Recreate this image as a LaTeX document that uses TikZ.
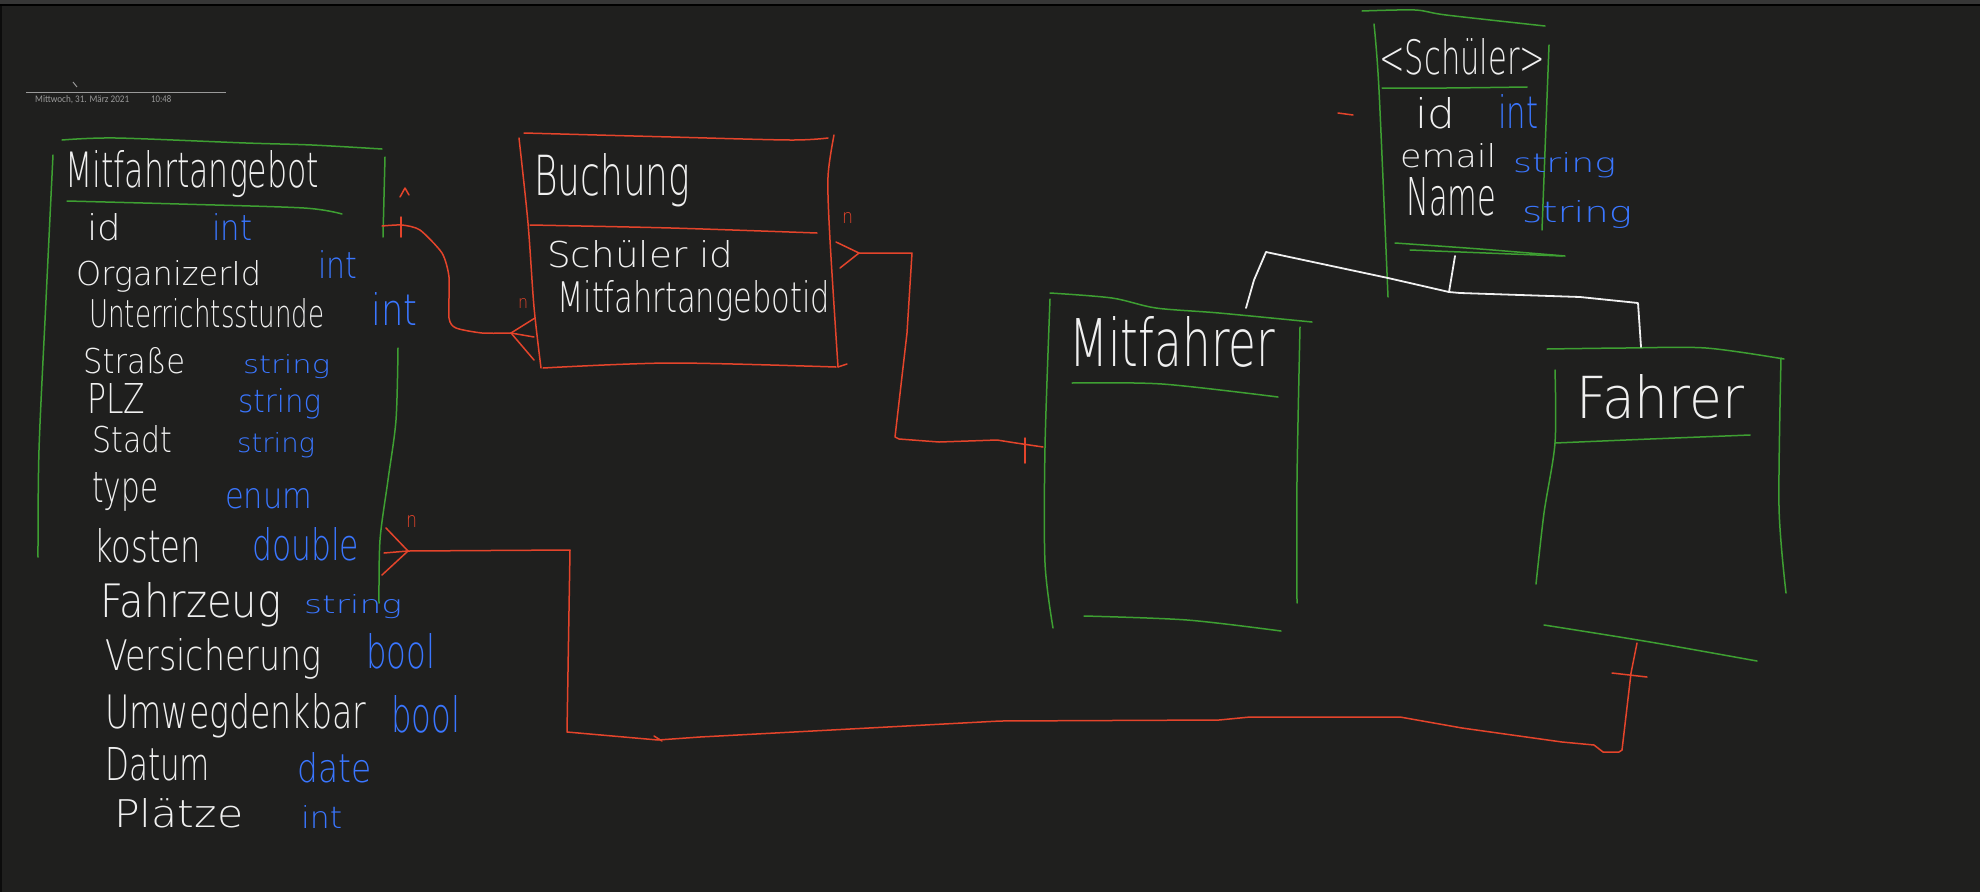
\documentclass[tikz,border=0pt]{standalone}
\usepackage{fontspec}
\usepackage{graphicx}
\setmainfont{DejaVuSans-ExtraLight.ttf}
\newfontfamily\hdrfont{Carlito}
\definecolor{bg}{HTML}{1F1F1E}
\definecolor{topgray}{HTML}{363636}
\definecolor{gr}{HTML}{3E9F32}
\definecolor{rd}{HTML}{E4442B}
\definecolor{bl}{HTML}{3A76FF}
\definecolor{wh}{HTML}{F0F0F0}
\definecolor{hdr}{HTML}{9A9A9A}
\newcommand\fb[3]{\resizebox{#1pt}{#2pt}{#3}}
\tikzset{
  gline/.style={gr, line width=1.5pt, line cap=round, line join=round},
  rline/.style={rd, line width=1.5pt, line cap=round, line join=round},
  wline/.style={wh, line width=1.8pt, line cap=round, line join=round},
  wtxt/.style={text=wh, inner sep=0pt, anchor=base west},
  btxt/.style={text=bl, inner sep=0pt, anchor=base west},
  rtxt/.style={text=rd, inner sep=0pt, anchor=base west},
  htxt/.style={text=hdr, inner sep=0pt, anchor=base west, font=\hdrfont},
}
\begin{document}
\begin{tikzpicture}[x=1pt,y=-1pt]
\useasboundingbox (0,0) rectangle (1980,892);
\fill[bg] (0,0) rectangle (1980,892);
\fill[topgray] (0,0) rectangle (1980,4);
\fill[black] (0,4) rectangle (1980,6);
\fill[black!60!bg] (0,6) rectangle (2,892);

% header
\draw[hdr, line width=1pt] (26,92) -- (226,92);
\draw[hdr, line width=1pt] (73,82) -- (77,87);
\node[htxt] (hdate) at (35,102) {\fb{94}{7}{Mittwoch, 31. März 2021}};
\node[htxt] (htime) at (151,102) {\fb{20}{7}{10:48}};

% ---------- Mitfahrtangebot ----------
\draw[gline] plot[smooth,tension=.5] coordinates {(62,140)(116,138)(246,143)(312,145)(382,149)};
\draw[gline] plot[smooth,tension=.5] coordinates {(53,155)(46,300)(39,450)(38,557)};
\draw[gline] (385,157) -- (383,237);
\draw[gline] plot[smooth,tension=.5] coordinates {(398,348)(396,420)(388,480)(380,540)(379,603)};
\draw[gline] plot[smooth,tension=.5] coordinates {(67,201)(179,204)(304,208)(342,214)};
\node[wtxt] (mtitle) at (65,187) {\fb{254}{37}{Mitfahrtangebot}};
\node[wtxt] (m1) at (87,240) {\fb{34}{27}{id}};
\node[btxt] (t1) at (212,240) {\fb{40}{27}{int}};
\node[wtxt] (m2) at (76,285) {\fb{185}{25}{OrganizerId}};
\node[btxt] (t2) at (318,278) {\fb{39}{28}{int}};
\node[wtxt] (m3) at (89,327) {\fb{235}{29}{Unterrichtsstunde}};
\node[btxt] (t3) at (371,325) {\fb{46}{33}{int}};
\node[wtxt] (m4) at (83,373) {\fb{102}{26}{Straße}};
\node[btxt] (t4) at (243,373) {\fb{87}{19}{string}};
\node[wtxt] (m5) at (87,413) {\fb{58}{30}{PLZ}};
\node[btxt] (t5) at (238,412) {\fb{83}{24}{string}};
\node[wtxt] (m6) at (92,452) {\fb{80}{27}{Stadt}};
\node[btxt] (t6) at (237,452) {\fb{78}{20}{string}};
\node[wtxt] (m7) at (92,502) {\fb{66}{30}{type}};
\node[btxt] (t7) at (225,508) {\fb{87}{20}{enum}};
\node[wtxt] (m8) at (94,562) {\fb{107}{34}{kosten}};
\node[btxt] (t8) at (252,560) {\fb{107}{33}{double}};
\node[wtxt] (m9) at (100,617) {\fb{181}{35}{Fahrzeug}};
\node[btxt] (t9) at (304,613) {\fb{98}{19}{string}};
\node[wtxt] (m10) at (105,670) {\fb{216}{32}{Versicherung}};
\node[btxt] (t10) at (366,668) {\fb{69}{35}{bool}};
\node[wtxt] (m11) at (105,728) {\fb{261}{35}{Umwegdenkbar}};
\node[btxt] (t11) at (391,732) {\fb{69}{37}{bool}};
\node[wtxt] (m12) at (105,780) {\fb{105}{33}{Datum}};
\node[btxt] (t12) at (297,782) {\fb{74}{30}{date}};
\node[wtxt] (m13) at (114,827) {\fb{129}{29}{Plätze}};
\node[btxt] (t13) at (301,828) {\fb{41}{23}{int}};

% ---------- Buchung ----------
\draw[rline] plot[smooth,tension=.5] coordinates {(524,133)(671,137)(790,140)(828,138)};
\draw[rline] plot[smooth,tension=.5] coordinates {(519,138)(528,223)(534,307)(541,368)};
\draw[rline] plot[smooth,tension=.5] coordinates {(834,135)(828,177)(830,240)(838,367)};
\draw[rline] (838,367) -- (847,364);
\draw[rline] plot[smooth,tension=.5] coordinates {(543,368)(671,363)(836,367)};
\draw[rline] plot[smooth,tension=.5] coordinates {(530,225)(671,228)(817,233)};
\node[wtxt] (btitle) at (534,195) {\fb{156}{42}{Buchung}};
\node[wtxt] (b1) at (547,267) {\fb{186}{27}{Schüler id}};
\node[wtxt] (b2) at (557,312) {\fb{273}{32}{Mitfahrtangebotid}};

% ---------- Schüler ----------
\draw[gline] plot[smooth,tension=.5] coordinates {(1362,11)(1415,10)(1446,15)(1545,26)};
\draw[gline] plot[smooth,tension=.5] coordinates {(1374,24)(1379,90)(1388,297)};
\draw[gline] (1549,45) -- (1542,230);
\draw[gline] plot[smooth,tension=.5] coordinates {(1382,88)(1446,88)(1527,87)};
\draw[gline] plot[smooth,tension=.5] coordinates {(1395,243)(1480,249)(1565,256)};
\draw[gline] (1410,250) -- (1562,256);
\draw[rline] (1338,113) -- (1353,115);
\node[wtxt] (stitle) at (1379,74) {\fb{166}{36}{<Schüler>}};
\node[wtxt] (s1) at (1415,128) {\fb{40}{31}{id}};
\node[btxt] (st1) at (1498,128) {\fb{40}{34}{int}};
\node[wtxt] (s2) at (1400,167) {\fb{96}{24}{email}};
\node[btxt] (st2) at (1513,172) {\fb{103}{20}{string}};
\node[wtxt] (s3) at (1406,215) {\fb{90}{38}{Name}};
\node[btxt] (st3) at (1522,222) {\fb{110}{22}{string}};

% ---------- Mitfahrer ----------
\draw[gline] plot[smooth,tension=.5] coordinates {(1050,293)(1112,298)(1156,308)(1219,313)(1312,322)};
\draw[gline] plot[smooth,tension=.5] coordinates {(1050,299)(1045,447)(1045,563)(1053,628)};
\draw[gline] plot[smooth,tension=.5] coordinates {(1300,327)(1297,480)(1297,603)};
\draw[gline] plot[smooth,tension=.5] coordinates {(1072,383)(1162,384)(1278,397)};
\draw[gline] plot[smooth,tension=.5] coordinates {(1084,616)(1187,620)(1281,631)};
\node[wtxt] (mftitle) at (1069,366) {\fb{206}{50}{Mitfahrer}};

% ---------- Fahrer ----------
\draw[gline] plot[smooth,tension=.5] coordinates {(1547,349)(1625,348)(1706,348)(1784,359)};
\draw[gline] plot[smooth,tension=.5] coordinates {(1555,370)(1555,443)(1544,513)(1536,584)};
\draw[gline] plot[smooth,tension=.5] coordinates {(1781,358)(1779,507)(1786,593)};
\draw[gline] plot[smooth,tension=.5] coordinates {(1555,443)(1650,439)(1750,435)};
\draw[gline] plot[smooth,tension=.5] coordinates {(1544,625)(1650,642)(1757,661)};
\node[wtxt] (ftitle) at (1576,418) {\fb{168}{44}{Fahrer}};

% ---------- inheritance ----------
\coordinate (i1) at (1246,308);
\coordinate (i2) at (1641,347);
\coordinate (i3) at (1455,256);
\coordinate (ij) at (1449,292);
\draw[wline] (i1) -- (1254,280) -- (1266,252) -- (1388,278) -- (ij) -- (1460,293) -- (1580,297) -- (1638,303) -- (i2);
\draw[wline] (i3) -- (ij);

% ---------- connector Mitfahrtangebot -- Buchung ----------
\coordinate (c1a) at (382,226);
\coordinate (c1f) at (511,333);
\coordinate (c1b) at (534,337);
\draw[rline] plot[smooth,tension=.4] coordinates {(c1a)(402,225)(420,230)(442,253)(449,277)(449,318)(456,328)(482,333)(c1f)};
\draw[rline] (c1f) -- (c1b);
\draw[rline] (c1f) -- (535,318);
\draw[rline] (c1f) -- (534,360);
\draw[rline] (401,217) -- (401,237);
\draw[rline] (400,197) -- (405,188) -- (409,195);
\node[rtxt] (n1) at (518,308) {\fb{10}{10}{n}};

% ---------- connector Buchung -- Mitfahrer ----------
\coordinate (c2a) at (859,253);
\coordinate (c2b) at (1043,447);
\draw[rline] (c2a) -- (912,253) -- (907,333) -- (895,437) -- (899,439) -- (939,442) -- (997,440) -- (1016,443) -- (c2b);
\draw[rline] (c2a) -- (836,242);
\draw[rline] (c2a) -- (840,268);
\draw[rline] (1025,438) -- (1025,463);
\node[rtxt] (n2) at (842,223) {\fb{11}{11}{n}};

% ---------- connector Mitfahrtangebot -- Fahrer ----------
\coordinate (c3a) at (408,551);
\coordinate (c3b) at (1637,643);
\draw[rline] (c3a) -- (570,550) -- (567,732) -- (658,740) -- (700,737) -- (1000,721) -- (1219,720) -- (1250,717) -- (1400,717) -- (1462,728) -- (1562,742) -- (1594,745) -- (1603,752) -- (1619,752) -- (1622,750) -- (1631,673) -- (c3b);
\draw[rline] (c3a) -- (386,528);
\draw[rline] (c3a) -- (382,575);
\draw[rline] (c3a) -- (384,553);
\draw[rline] (654,736) -- (662,741);
\draw[rline] (1612,673) -- (1647,677);
\node[rtxt] (n3) at (406,527) {\fb{11}{12}{n}};
\end{tikzpicture}
\end{document}
